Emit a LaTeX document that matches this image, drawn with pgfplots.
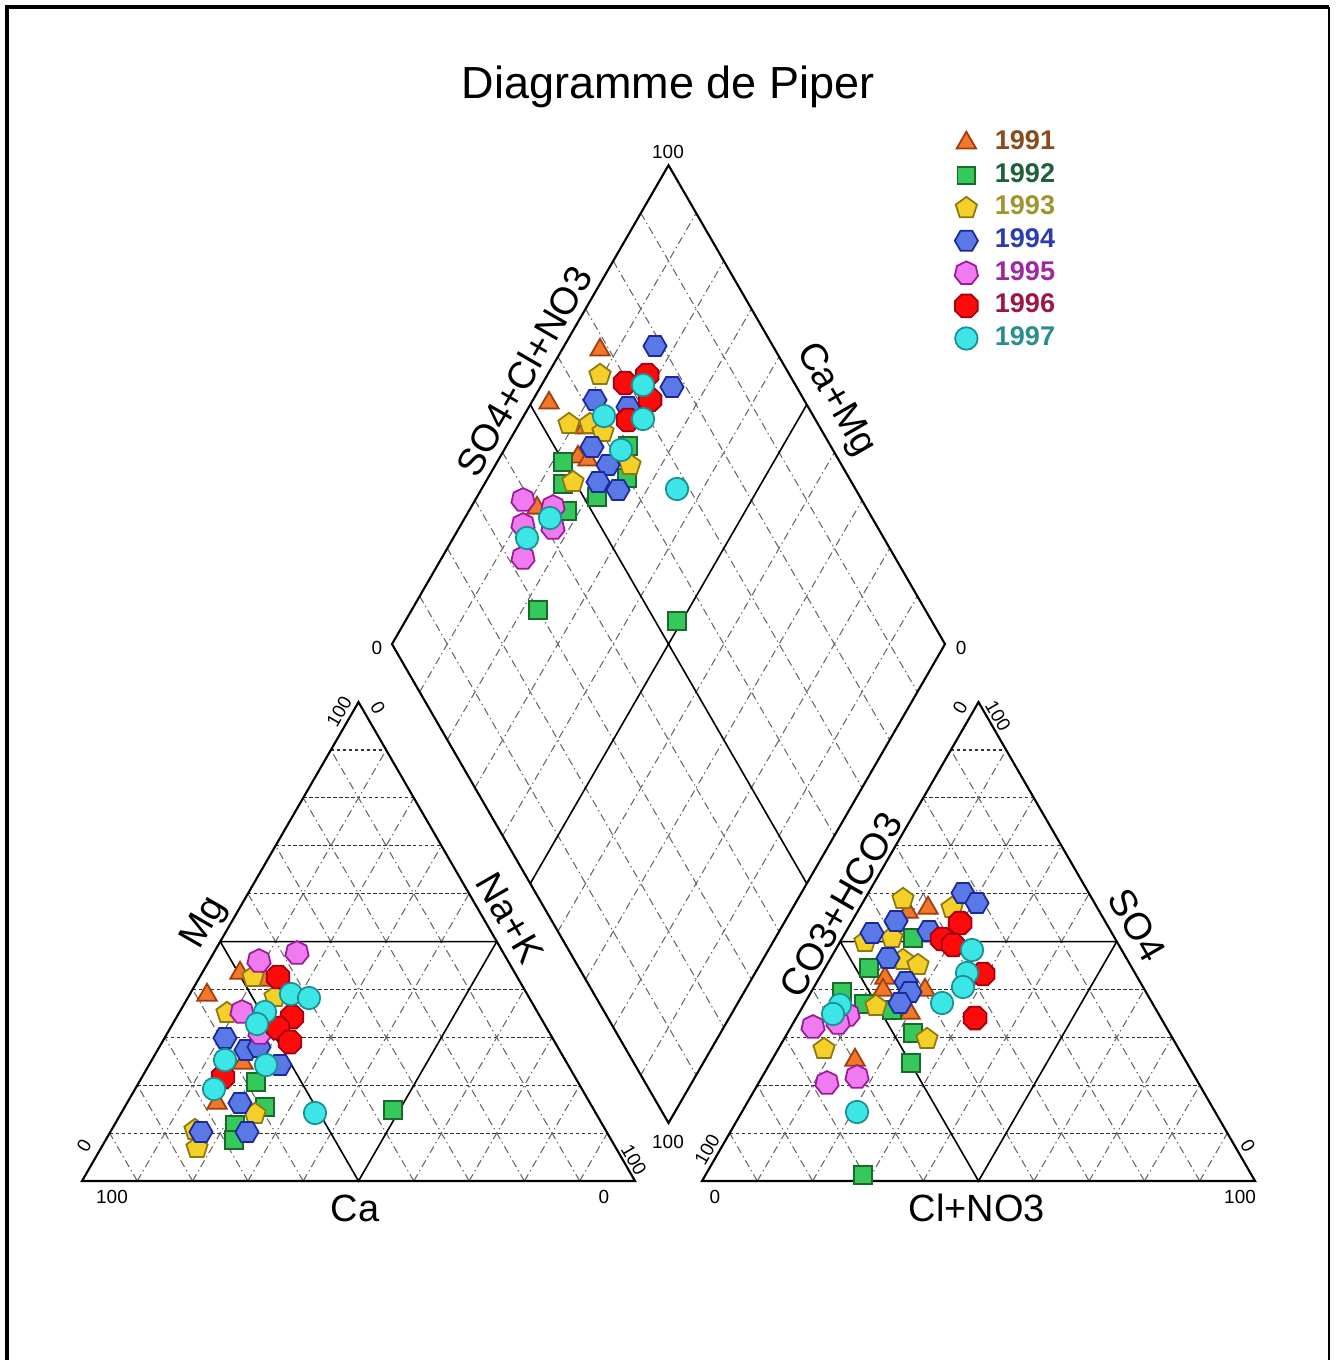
\documentclass[border=0pt]{standalone}
\usepackage{pgfplots}
\pgfplotsset{compat=1.18}
\usepackage{fontspec}
\setmainfont{Liberation Sans}

\definecolor{f91}{HTML}{F07828}\definecolor{d91}{HTML}{A03C10}\definecolor{t91}{HTML}{8B4A1C}
\definecolor{f92}{HTML}{35C85A}\definecolor{d92}{HTML}{1A6B2A}\definecolor{t92}{HTML}{1F5F3A}
\definecolor{f93}{HTML}{F5D028}\definecolor{d93}{HTML}{8C7A10}\definecolor{t93}{HTML}{A0962E}
\definecolor{f94}{HTML}{5A78E6}\definecolor{d94}{HTML}{1A2A9C}\definecolor{t94}{HTML}{2A3CB0}
\definecolor{f95}{HTML}{F07AF0}\definecolor{d95}{HTML}{9A1A9A}\definecolor{t95}{HTML}{A0289E}
\definecolor{f96}{HTML}{FF0A0A}\definecolor{d96}{HTML}{A00010}\definecolor{t96}{HTML}{9C1842}
\definecolor{f97}{HTML}{3CE6E6}\definecolor{d97}{HTML}{1A9090}\definecolor{t97}{HTML}{2A8E8E}

\pgfdeclareplotmark{hexagon*}{%
  \pgfpathmoveto{\pgfpointpolar{0}{\pgfplotmarksize}}%
  \pgfpathlineto{\pgfpointpolar{60}{\pgfplotmarksize}}%
  \pgfpathlineto{\pgfpointpolar{120}{\pgfplotmarksize}}%
  \pgfpathlineto{\pgfpointpolar{180}{\pgfplotmarksize}}%
  \pgfpathlineto{\pgfpointpolar{240}{\pgfplotmarksize}}%
  \pgfpathlineto{\pgfpointpolar{300}{\pgfplotmarksize}}%
  \pgfpathclose\pgfusepathqfillstroke}
\pgfdeclareplotmark{heptagon*}{%
  \pgfpathmoveto{\pgfpointpolar{90}{\pgfplotmarksize}}%
  \pgfpathlineto{\pgfpointpolar{141.43}{\pgfplotmarksize}}%
  \pgfpathlineto{\pgfpointpolar{192.86}{\pgfplotmarksize}}%
  \pgfpathlineto{\pgfpointpolar{244.29}{\pgfplotmarksize}}%
  \pgfpathlineto{\pgfpointpolar{295.71}{\pgfplotmarksize}}%
  \pgfpathlineto{\pgfpointpolar{347.14}{\pgfplotmarksize}}%
  \pgfpathlineto{\pgfpointpolar{38.57}{\pgfplotmarksize}}%
  \pgfpathclose\pgfusepathqfillstroke}
\pgfdeclareplotmark{octagon*}{%
  \pgfpathmoveto{\pgfpointpolar{22.5}{\pgfplotmarksize}}%
  \pgfpathlineto{\pgfpointpolar{67.5}{\pgfplotmarksize}}%
  \pgfpathlineto{\pgfpointpolar{112.5}{\pgfplotmarksize}}%
  \pgfpathlineto{\pgfpointpolar{157.5}{\pgfplotmarksize}}%
  \pgfpathlineto{\pgfpointpolar{202.5}{\pgfplotmarksize}}%
  \pgfpathlineto{\pgfpointpolar{247.5}{\pgfplotmarksize}}%
  \pgfpathlineto{\pgfpointpolar{292.5}{\pgfplotmarksize}}%
  \pgfpathlineto{\pgfpointpolar{337.5}{\pgfplotmarksize}}%
  \pgfpathclose\pgfusepathqfillstroke}

\newcommand\tk{\fontsize{5.4pt}{6pt}\selectfont}
\newcommand\lb{\fontsize{10.8pt}{12pt}\selectfont}

\begin{document}
\begin{tikzpicture}[
  hgrid/.style={line width=0.3pt, black!80, dash pattern=on 1pt off 0.7pt},
  ogrid/.style={line width=0.3pt, black!60, dash pattern=on 2.2pt off 1pt on 0.4pt off 1pt},
  edge/.style={line width=0.6pt, black},
  half/.style={line width=0.45pt, black}]
\useasboundingbox (0,0) rectangle (133.7mm,136mm);
\begin{scope}[shift={(0,136mm)},x=0.1mm,y=-0.1mm]
  % frame
  \draw[line width=1.1pt] (7,1362) -- (7,7) -- (1329,7);
  \draw[line width=0.6pt] (1329,7) -- (1329,1362);
  % title
  \node[font=\fontsize{12.8pt}{14pt}\selectfont] at (668,87) {Diagramme de Piper};
  % triangles
  \foreach \ox in {82,702}{
    \foreach \k in {1,...,9}{
      \draw[hgrid] ({\ox+\k*27.65},{1181-\k*47.89}) -- ({\ox+553-\k*27.65},{1181-\k*47.89});
      \draw[ogrid] ({\ox+\k*55.3},1181) -- ({\ox+\k*27.65},{1181-\k*47.89});
      \draw[ogrid] ({\ox+\k*55.3},1181) -- ({\ox+553-(10-\k)*27.65},{1181-(10-\k)*47.89});
    }
    \draw[half] ({\ox+138.25},941.55) -- ({\ox+414.75},941.55) -- ({\ox+276.5},1181) -- cycle;
    \draw[edge] (\ox,1181) -- ({\ox+553},1181) -- ({\ox+276.5},702.1) -- cycle;
  }
  % diamond
  \foreach \k in {1,...,9}{
    \draw[ogrid] ({392+\k*27.65},{644.1+\k*47.89}) -- ({668.5+\k*27.65},{165.2+\k*47.89});
    \draw[ogrid] ({392+\k*27.65},{644.1-\k*47.89}) -- ({668.5+\k*27.65},{1123-\k*47.89});
  }
  \draw[half] (530.25,404.65) -- (806.75,883.55);
  \draw[half] (530.25,883.55) -- (806.75,404.65);
  \draw[edge] (392,644.1) -- (668.5,165.2) -- (945,644.1) -- (668.5,1123) -- cycle;
  % tick labels
  \node[font=\tk] at (668,152) {100};
  \node[font=\tk] at (377,648) {0};
  \node[font=\tk] at (961,648) {0};
  \node[font=\tk] at (668,1142) {100};
  \node[font=\tk] at (112,1197) {100};
  \node[font=\tk] at (604,1197) {0};
  \node[font=\tk,rotate=60] at (84,1146) {0};
  \node[font=\tk,rotate=60] at (339,712) {100};
  \node[font=\tk,rotate=-60] at (378,708) {0};
  \node[font=\tk,rotate=-60] at (634,1160) {100};
  \node[font=\tk] at (715,1197) {0};
  \node[font=\tk] at (1240,1197) {100};
  \node[font=\tk,rotate=60] at (707,1150) {100};
  \node[font=\tk,rotate=60] at (960,708) {0};
  \node[font=\tk,rotate=-60] at (998,716) {100};
  \node[font=\tk,rotate=-60] at (1248,1146) {0};
  % axis labels
  \node[font=\lb] at (355,1208) {Ca};
  \node[font=\lb,rotate=60] at (205,923) {Mg};
  \node[font=\lb,rotate=-60] at (510,918) {Na+K};
  \node[font=\lb] at (977,1208) {Cl+NO3};
  \node[font=\lb,rotate=60] at (841,905) {CO3+HCO3};
  \node[font=\lb,rotate=-60] at (1137,925) {SO4};
  \node[font=\lb,rotate=60] at (524,371) {SO4+Cl+NO3};
  \node[font=\lb,rotate=-60] at (835,400) {Ca+Mg};
\end{scope}
\begin{axis}[at={(0,0)}, anchor=south west, scale only axis,
  width=133.7mm, height=136mm, xmin=0, xmax=1337, ymin=0, ymax=1360,
  y dir=reverse, hide axis, clip=false,
  legend image code/.code={\draw[#1] plot coordinates {(0cm,0cm)};},
  legend cell align=left,
  legend style={at={(axis cs:954,128)}, anchor=north west, draw=none, fill=none,
    inner sep=0pt, row sep=1.2pt,
    nodes={inner sep=0.6pt, font=\fontsize{7.7pt}{8pt}\selectfont\bfseries},
    /tikz/every odd column/.append style={column sep=4.2pt}}]
\addplot[only marks, mark=triangle*, mark size=3.2pt, mark options={fill=f91, draw=d91, line width=0.5pt}] coordinates {
(600,350) (549,403) (585,428) (578,457) (588,460) (537,508)
(240,973) (265,980) (207,995) (243,1063) (217,1103)
(928,908) (908,912) (885,978) (883,990) (925,990) (910,1013) (855,1060)};
\addlegendentry{\textcolor{t91}{1991}}
\addplot[only marks, mark=square*, mark size=2.5pt, mark options={fill=f92, draw=d92, line width=0.5pt}] coordinates {
(563,462) (628,446) (563,484) (597,497) (627,478) (567,511) (538,610) (677,621)
(256,1082) (265,1107) (393,1110) (235,1125) (234,1140)
(913,938) (869,968) (842,992) (864,1004) (892,1010) (913,1033) (911,1063) (863,1175)};
\addlegendentry{\textcolor{t92}{1992}}
\addplot[only marks, mark=pentagon*, mark size=3.2pt, mark options={fill=f93, draw=d93, line width=0.5pt}] coordinates {
(600,375) (569,424) (590,424) (603,432) (573,482) (630,465)
(253,977) (275,997) (227,1013) (255,1114) (195,1130) (197,1148)
(903,899) (952,908) (865,942) (892,938) (903,960) (918,965) (876,1006) (927,1039) (824,1049)};
\addlegendentry{\textcolor{t93}{1993}}
\addplot[only marks, mark=hexagon*, mark size=3.3pt, mark options={fill=f94, draw=d94, line width=0.5pt}] coordinates {
(655,346) (672,387) (595,400) (628,407) (592,447) (608,465) (598,482) (618,490)
(225,1038) (246,1050) (259,1047) (280,1065) (240,1103) (201,1132) (247,1132)
(963,893) (977,903) (896,921) (872,933) (929,931) (888,958) (906,982) (910,992) (900,1003)};
\addlegendentry{\textcolor{t94}{1994}}
\addplot[only marks, mark=heptagon*, mark size=3.4pt, mark options={fill=f95, draw=d95, line width=0.5pt}] coordinates {
(523,500) (553,507) (523,525) (553,528) (523,558)
(297,953) (259,961) (242,1012) (260,1033)
(848,1015) (838,1023) (813,1027) (827,1083) (857,1077)};
\addlegendentry{\textcolor{t95}{1995}}
\addplot[only marks, mark=octagon*, mark size=3.5pt, mark options={fill=f96, draw=d96, line width=0.5pt}] coordinates {
(625,383) (647,375) (650,400) (628,420)
(278,977) (292,1017) (278,1028) (290,1042) (223,1077)
(960,923) (942,939) (953,945) (983,974) (975,1018)};
\addlegendentry{\textcolor{t96}{1996}}
\addplot[only marks, mark=*, mark size=3.2pt, mark options={fill=f97, draw=d97, line width=0.5pt}] coordinates {
(643,385) (643,419) (604,416) (621,450) (677,489) (550,518) (527,538)
(291,994) (309,998) (265,1012) (257,1024) (225,1060) (266,1065) (214,1089) (315,1113)
(972,950) (967,973) (963,987) (942,1003) (840,1005) (833,1014) (857,1112)};
\addlegendentry{\textcolor{t97}{1997}}
\end{axis}
\end{tikzpicture}
\end{document}
